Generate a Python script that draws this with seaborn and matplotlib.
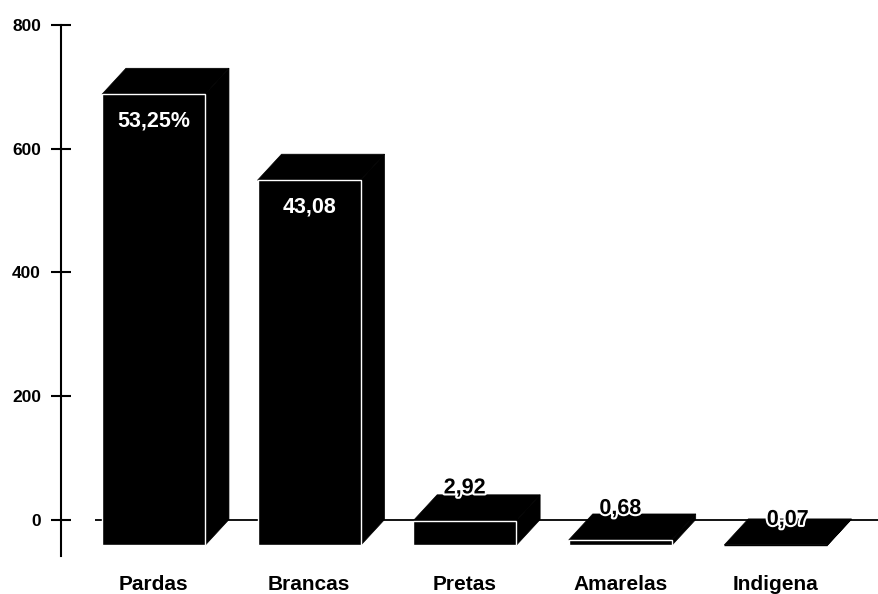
import matplotlib
matplotlib.use("Agg")
import matplotlib.pyplot as plt
import matplotlib.patheffects as pe
from matplotlib.patches import Polygon
import seaborn as sns
import pandas as pd

# ---- data ----
categories = ["Pardas", "Brancas", "Pretas", "Amarelas", "Indigena"]
counts = [730, 591, 40, 9, 1]
value_labels = ["53,25%", "43,08", "2,92", "0,68", "0,07"]
y_ticks = [0, 200, 400, 600, 800]

# ---- style ----
sns.set_theme(style="white")
plt.rcParams['font.family'] = ['Liberation Sans', 'DejaVu Sans']
plt.rcParams['font.weight'] = 'bold'

W, H = 879, 594
fig = plt.figure(figsize=(W / 100, H / 100), dpi=100)
ax = fig.add_axes([95 / W, 1 - 556 / H, (W - 95) / W, (556 - 25) / H])

DX = 0.154   # depth offset in category units
DY = 42      # depth offset in value units

df = pd.DataFrame({"cat": categories, "n": counts})
sns.barplot(data=df, x="cat", y="n", color="black", saturation=1,
            width=0.662, bottom=-DY, edgecolor="white", linewidth=1.0,
            errorbar=None, ax=ax, zorder=3)

# 3D top and side faces built from the drawn bars
for p in list(ax.patches):
    x0, y0 = p.get_x(), p.get_y()
    w, h = p.get_width(), p.get_height()
    if h < 3:
        p.set_edgecolor("black")
    top = Polygon([(x0, y0 + h), (x0 + DX, y0 + h + DY),
                   (x0 + w + DX, y0 + h + DY), (x0 + w, y0 + h)],
                  closed=True, fc="black", ec="black", lw=0.5, zorder=2)
    side = Polygon([(x0 + w, y0), (x0 + w, y0 + h),
                    (x0 + w + DX, y0 + h + DY), (x0 + w + DX, y0 + DY)],
                   closed=True, fc="black", ec="black", lw=0.5, zorder=2)
    ax.add_patch(top)
    ax.add_patch(side)

ax.axhline(0, color="black", lw=1.3, zorder=1)

# value labels
nudges = [(0, 0), (0, 0), (0, 1), (0, 0), (8.6, -4.3)]
for i, (lab, v) in enumerate(zip(value_labels, counts)):
    if v > 100:
        ax.annotate(lab, xy=(i, v - DY), xytext=(0, -19.5),
                    textcoords="offset points", ha="center", va="center",
                    color="white", fontsize=15.5, fontweight="bold", zorder=5)
    else:
        ax.annotate(lab, xy=(i, v), xytext=nudges[i],
                    textcoords="offset points", ha="center", va="baseline",
                    color="black", fontsize=15.5, fontweight="bold", zorder=5,
                    path_effects=[pe.withStroke(linewidth=3, foreground="white")])

ax.set_xlim(-0.376, 4.663)
ax.set_ylim(-59, 800)
ax.set_yticks(y_ticks)
ax.set_xlabel("")
ax.set_ylabel("")

for s in ["top", "right", "bottom"]:
    ax.spines[s].set_visible(False)
ax.spines["left"].set_position(("outward", 34 * 0.72))
ax.spines["left"].set_linewidth(1.5)
ax.spines["left"].set_color("black")

ax.tick_params(axis="y", direction="inout", length=13.7, width=1.5,
               pad=7.5, labelsize=12.5, colors="black", left=True)
ax.tick_params(axis="x", length=0, pad=13.5, labelsize=15, colors="black")
for t in ax.get_xticklabels() + ax.get_yticklabels():
    t.set_fontweight("bold")

fig.savefig("out.png", dpi=100)
